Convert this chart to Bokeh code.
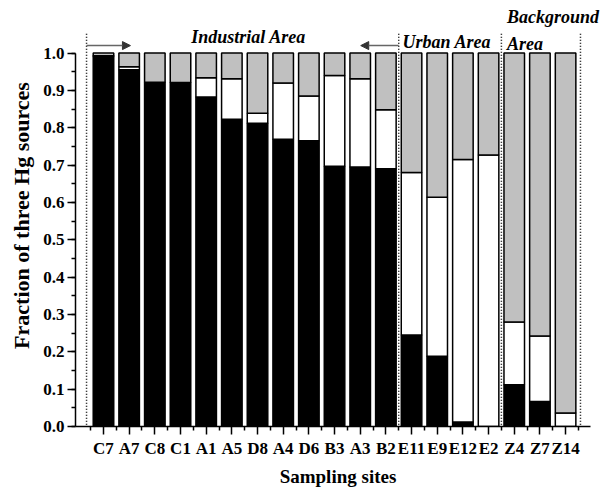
from bokeh.plotting import figure
from bokeh.models import Range1d, FixedTicker, SingleIntervalTicker, NumeralTickFormatter, Arrow, NormalHead, ColumnDataSource, Label
from bokeh.embed import file_html
from bokeh.resources import INLINE

sites = ["C7", "A7", "C8", "C1", "A1", "A5", "D8", "A4", "D6", "B3", "A3", "B2",
         "E11", "E9", "E12", "E2", "Z4", "Z7", "Z14"]
source1 = [0.990, 0.955, 0.922, 0.921, 0.882, 0.823, 0.812, 0.769, 0.765, 0.697, 0.695, 0.690,
           0.245, 0.188, 0.012, -0.008, 0.112, 0.067, -0.008]
source2 = [0.003, 0.008, -0.005, 0.0, 0.052, 0.108, 0.027, 0.151, 0.120, 0.243, 0.236, 0.158,
           0.435, 0.426, 0.703, 0.727, 0.168, 0.175, 0.036]
source3 = [round(1 - max(a, 0) - max(b, 0), 3) for a, b in zip(source1, source2)]
groups = [("Industrial Area", 0, 11), ("Urban Area", 12, 15), ("Background Area", 16, 18)]

SERIF = "Liberation Serif"
x = list(range(len(sites)))

p = figure(width=600, height=489, output_backend="svg", toolbar_location=None,
           x_range=Range1d(-1.09, 19.36), y_range=Range1d(0, 1.13),
           min_border_left=75, min_border_right=0, min_border_top=4, min_border_bottom=60)
p.outline_line_color = None
p.grid.grid_line_color = None

# stacked bars
pos = [0.0] * len(x)
neg = [0.0] * len(x)
for vals, col in [(source1, "black"), (source2, "white"), (source3, "#c0c0c0")]:
    bottoms, tops = [], []
    for i, v in enumerate(vals):
        if v >= 0:
            bottoms.append(pos[i]); tops.append(pos[i] + v); pos[i] += v
        else:
            tops.append(neg[i]); bottoms.append(neg[i] + v); neg[i] += v
    src = ColumnDataSource(dict(x=x, bottom=bottoms, top=tops))
    p.vbar(x="x", bottom="bottom", top="top", width=0.8, source=src,
           fill_color=col, line_color="black", line_width=1.5)

# group separators
sep = [-0.66, groups[0][2] + 0.5, groups[1][2] + 0.5, groups[2][2] + 0.58]
p.segment(x0=sep, y0=[0.005] * 4, x1=sep, y1=[1.053] * 4, line_color="black",
          line_width=1.5, line_dash="1 2")

# arrows
head = dict(size=8, fill_color="#333333", line_color="#333333")
p.add_layout(Arrow(end=NormalHead(**head), x_start=sep[0], y_start=1.02, x_end=1.05, y_end=1.02,
                   line_color="#666666", line_width=1.5))
p.add_layout(Arrow(end=NormalHead(**head), x_start=sep[1], y_start=1.02, x_end=10.02, y_end=1.02,
                   line_color="#666666", line_width=1.5))

tf = dict(text_font=SERIF, text_font_style="bold italic", text_font_size="18px",
          text_color="black", text_baseline="middle")
p.add_layout(Label(x=5.65, y=1.043, text=groups[0][0], text_align="center", **tf))
p.add_layout(Label(x=11.65, y=1.029, text=groups[1][0], text_align="left", **tf))
bg1, bg2 = groups[2][0].split(" ")
p.add_layout(Label(x=15.72, y=1.096, text=bg1, text_align="left", **tf))
p.add_layout(Label(x=15.72, y=1.024, text=bg2, text_align="left", **tf))

# axes
xa = p.xaxis[0]
xa.ticker = FixedTicker(ticks=x, minor_ticks=[i - 0.5 for i in range(len(x) + 1)])
xa.major_label_overrides = {i: s for i, s in enumerate(sites)}
xa.bounds = (-1.09, 18.97)
ya = p.yaxis[0]
ya.ticker = SingleIntervalTicker(interval=0.1, num_minor_ticks=2)
ya.formatter = NumeralTickFormatter(format="0.0")
ya.bounds = (0, 1.0)
for ax in (xa, ya):
    ax.axis_line_width = 1.5
    ax.axis_line_color = "black"
    ax.major_tick_line_color = "black"
    ax.major_tick_line_width = 1.5
    ax.minor_tick_line_color = "black"
    ax.minor_tick_line_width = 1.5
    ax.major_tick_out = 8
    ax.major_tick_in = 0
    ax.minor_tick_out = 4
    ax.minor_tick_in = 0
    ax.major_label_text_font = SERIF
    ax.major_label_text_font_style = "bold"
    ax.major_label_text_font_size = "17px"
    ax.major_label_text_color = "black"
    ax.axis_label_text_font = SERIF
    ax.axis_label_text_font_style = "bold"
    ax.axis_label_text_color = "black"
xa.axis_label_text_font_size = "19px"
ya.axis_label_text_font_size = "22px"
xa.axis_label = "Sampling sites"
ya.axis_label = "Fraction of three Hg sources"
xa.major_label_standoff = 4
xa.axis_label_standoff = 5
ya.major_label_standoff = 3
ya.axis_label_standoff = 6

open("out.html", "w").write(file_html(p, INLINE))
